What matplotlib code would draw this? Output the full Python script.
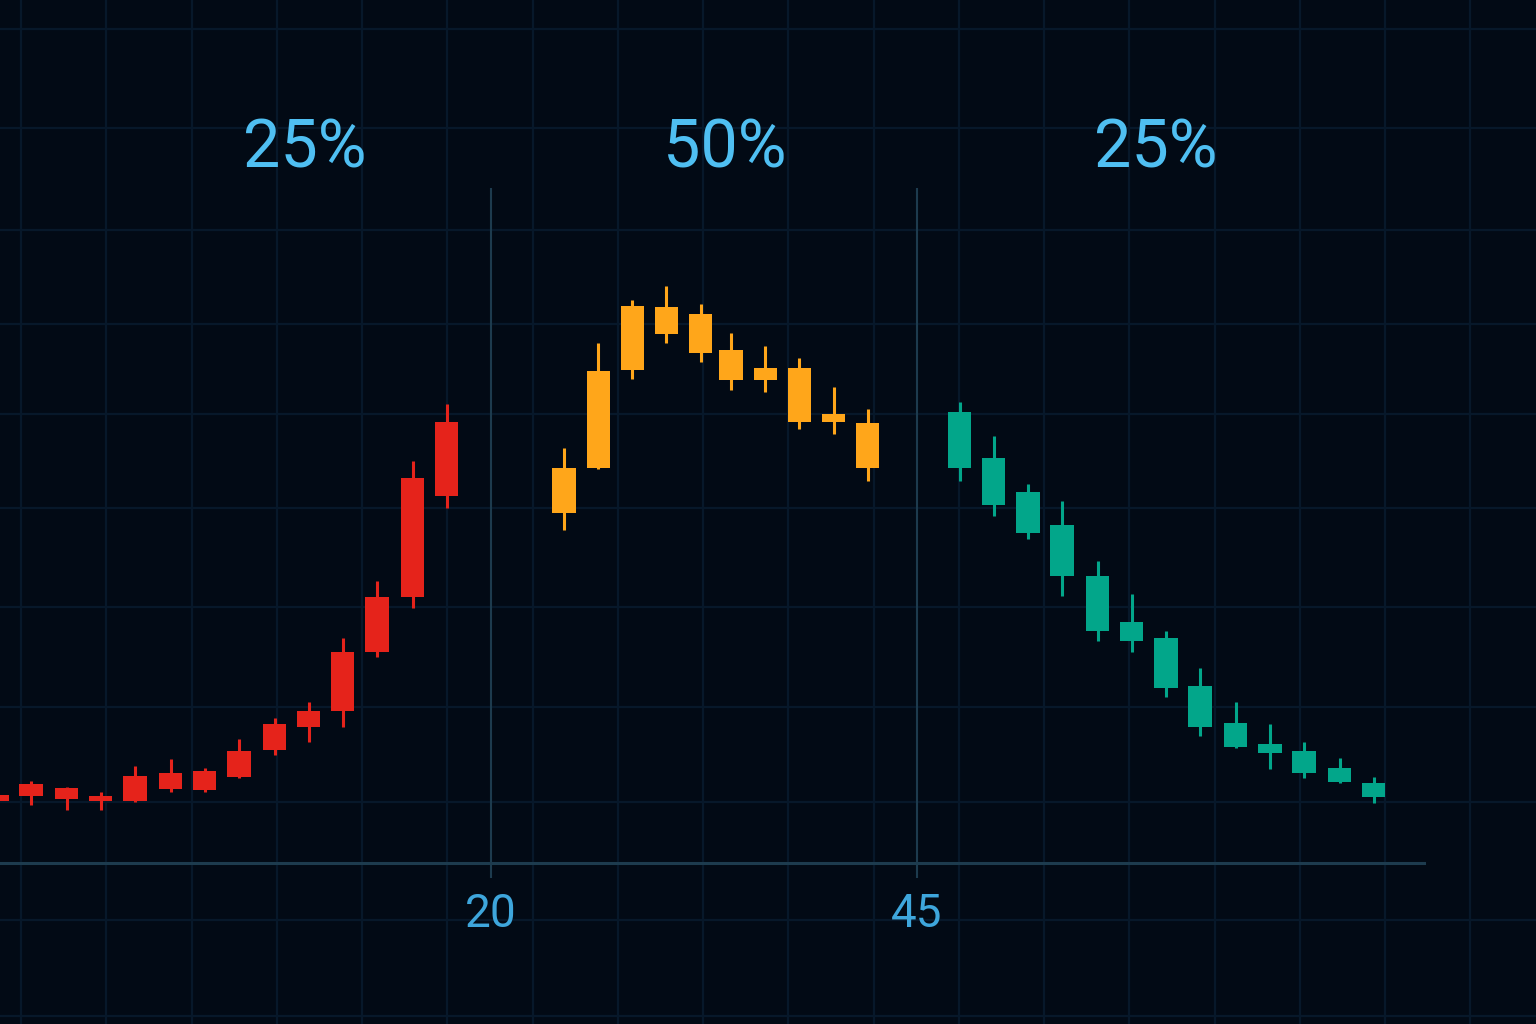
import numpy as np
import matplotlib.pyplot as plt

# candle data: x position, open, high, low, close
red_x = [-9.0, -7.0, -4.9, -2.9, -0.9, 1.2, 3.2, 5.2, 7.3, 9.3, 11.3, 13.3, 15.4, 17.4]
red_open = [9.2, 9.9, 11.1, 9.9, 9.2, 11.0, 10.8, 12.7, 16.7, 20.1, 22.5, 31.3, 39.4, 54.4]
red_high = [10.4, 12.1, 11.2, 10.5, 14.4, 15.4, 14.1, 18.4, 21.5, 23.9, 33.3, 41.8, 59.6, 68.0]
red_low = [8.9, 8.6, 7.9, 7.9, 9.1, 10.5, 10.5, 12.6, 16.0, 17.9, 20.1, 30.5, 37.8, 52.6]
red_close = [10.1, 11.7, 9.5, 9.2, 12.9, 13.3, 13.6, 16.6, 20.6, 22.5, 31.3, 39.4, 57.0, 65.3]

orange_x = [24.3, 26.3, 28.3, 30.3, 32.3, 34.1, 36.1, 38.1, 40.1, 42.1]
orange_open = [51.9, 58.5, 73.0, 82.4, 81.3, 76.0, 73.3, 73.3, 66.5, 65.2]
orange_high = [61.5, 77.0, 83.4, 85.5, 82.8, 78.5, 76.6, 74.8, 70.5, 67.3]
orange_low = [49.3, 58.4, 71.7, 77.0, 74.2, 70.1, 69.8, 64.3, 63.6, 56.6]
orange_close = [58.5, 72.9, 82.5, 78.4, 75.6, 71.6, 71.6, 65.3, 65.3, 58.5]

teal_x = [47.5, 49.5, 51.5, 53.5, 55.6, 57.6, 59.6, 61.6, 63.7, 65.7, 67.7, 69.8, 71.8]
teal_open = [66.8, 60.0, 55.0, 50.1, 42.5, 35.7, 33.3, 26.2, 20.7, 17.6, 16.6, 14.1, 11.9]
teal_high = [68.3, 63.3, 56.1, 53.6, 44.7, 39.9, 34.4, 28.9, 23.9, 20.6, 17.9, 15.6, 12.7]
teal_low = [56.6, 51.4, 48.0, 39.6, 32.9, 31.3, 24.6, 18.8, 17.1, 13.9, 12.6, 11.9, 8.9]
teal_close = [58.5, 53.0, 48.9, 42.5, 34.4, 32.9, 25.9, 20.1, 17.2, 16.3, 13.3, 12.0, 9.8]

dividers = [20, 45]
divider_labels = ['20', '45']
zone_labels = ['25%', '50%', '25%']
zone_label_x = [9.1, 33.7, 59.0]

# style
BG = '#020a15'
GRID = '#07182a'
AXIS = '#1d3b4e'
TEXT = '#4fbff2'
TICK_TEXT = '#3ea6dc'
plt.rcParams['font.family'] = ['Roboto', 'DejaVu Sans']

fig = plt.figure(figsize=(15.36, 10.24), dpi=100, facecolor=BG)

# background grid over the whole picture (pixel coords)
bg = fig.add_axes([0, 0, 1, 1])
bg.set_xlim(0, 1536)
bg.set_ylim(1024, 0)
bg.set_facecolor(BG)
bg.axis('off')
for gx in np.arange(21, 1536, 85.25):
    bg.axvline(gx, color=GRID, lw=1.6, zorder=0)
for gy in [29, 128, 230, 324, 414, 508, 607, 707, 802, 920, 1016]:
    bg.axhline(gy, color=GRID, lw=1.6, zorder=0)

ax = fig.add_axes([0, 0.15723, 0.92708, 0.65918])
ax.patch.set_alpha(0)
ax.set_xlim(-8.81, 74.75)
ax.set_ylim(0, 100)


def candles(x, o, h, l, c, color):
    x = np.asarray(x)
    o, h, l, c = map(np.asarray, (o, h, l, c))
    lo = np.minimum(o, c)
    hi = np.maximum(o, c)
    ax.vlines(x, l, h, color=color, lw=2.2, zorder=3)
    ax.bar(x, np.maximum(hi - lo, 0.6), bottom=lo, width=1.38,
           color=color, zorder=4)


candles(red_x, red_open, red_high, red_low, red_close, '#e5231b')
candles(orange_x, orange_open, orange_high, orange_low, orange_close, '#ffa61a')
candles(teal_x, teal_open, teal_high, teal_low, teal_close, '#02a68a')

for d in dividers:
    ax.axvline(d, color=AXIS, lw=1.5, zorder=2)

for s in ['top', 'left', 'right']:
    ax.spines[s].set_visible(False)
ax.spines['bottom'].set_color(AXIS)
ax.spines['bottom'].set_linewidth(2.2)
ax.set_yticks([])
ax.set_xticks(dividers)
ax.set_xticklabels(divider_labels)
ax.tick_params(axis='x', length=10.8, width=1.5, color=AXIS,
               labelcolor=TICK_TEXT, labelsize=33, pad=10)

for lx, lab in zip(zone_label_x, zone_labels):
    ax.text(lx, 1.031, lab, transform=ax.get_xaxis_transform(),
            ha='center', va='baseline', fontsize=48,
            color=TEXT, clip_on=False)

fig.savefig('out.png', dpi=100, facecolor=BG)
